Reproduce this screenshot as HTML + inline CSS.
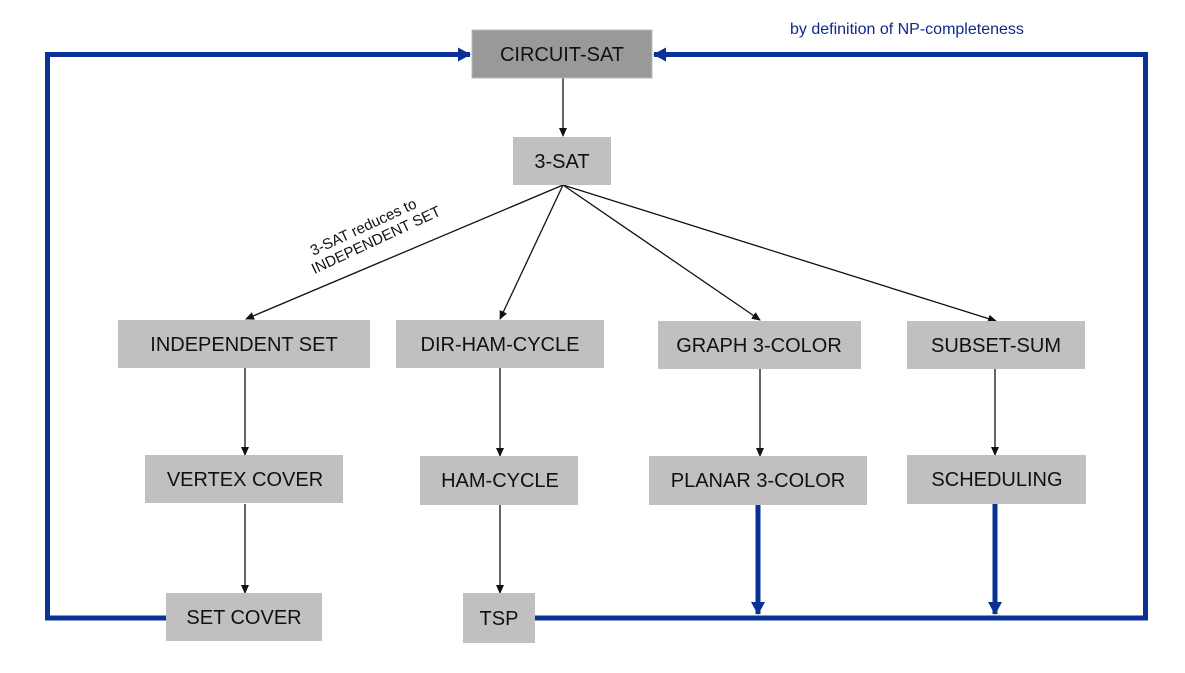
<!DOCTYPE html>
<html><head><meta charset="utf-8"><style>
html,body{margin:0;padding:0;background:#fff;}
svg{display:block;}
text{font-family:"Liberation Sans","DejaVu Sans",sans-serif;fill:#111;}
</style></head><body>
<svg width="1185" height="673" viewBox="0 0 1185 673" xmlns="http://www.w3.org/2000/svg">
<defs>
<marker id="a" markerWidth="10" markerHeight="10" refX="8" refY="4" orient="auto" markerUnits="userSpaceOnUse"><path d="M0,0 L9,4 L0,8 z" fill="#111"/></marker>
<marker id="b" markerWidth="16" markerHeight="16" refX="12" refY="7" orient="auto" markerUnits="userSpaceOnUse"><path d="M0,0 L13,7 L0,14 z" fill="#0a3296"/></marker>
</defs>
<g stroke="#0a3296" stroke-width="5" fill="none">
<polyline points="166,618 47.5,618 47.5,54.5 470,54.5" marker-end="url(#b)"/>
<polyline points="535,618 1145.5,618 1145.5,54.5 654,54.5" marker-end="url(#b)"/>
<line x1="758" y1="505" x2="758" y2="614" marker-end="url(#b)"/>
<line x1="995" y1="504" x2="995" y2="614" marker-end="url(#b)"/>
</g>
<g stroke="#111" stroke-width="1.3" fill="none">
<line x1="563" y1="78" x2="563" y2="136" marker-end="url(#a)"/>
<line x1="563" y1="185" x2="246" y2="319" marker-end="url(#a)"/>
<line x1="563" y1="185" x2="500" y2="319" marker-end="url(#a)"/>
<line x1="563" y1="185" x2="760" y2="320" marker-end="url(#a)"/>
<line x1="563" y1="185" x2="996" y2="321" marker-end="url(#a)"/>
<line x1="245" y1="368" x2="245" y2="455" marker-end="url(#a)"/>
<line x1="500" y1="368" x2="500" y2="456" marker-end="url(#a)"/>
<line x1="760" y1="368" x2="760" y2="456" marker-end="url(#a)"/>
<line x1="995" y1="368" x2="995" y2="455" marker-end="url(#a)"/>
<line x1="245" y1="504" x2="245" y2="593" marker-end="url(#a)"/>
<line x1="500" y1="505" x2="500" y2="593" marker-end="url(#a)"/>
</g>
<g>
<rect x="472" y="30" width="180" height="48" fill="#999999" stroke="#bbb"/>
<rect x="513" y="137" width="98" height="48" fill="#c0c0c0"/>
<rect x="118" y="320" width="252" height="48" fill="#c0c0c0"/>
<rect x="396" y="320" width="208" height="48" fill="#c0c0c0"/>
<rect x="658" y="321" width="203" height="48" fill="#c0c0c0"/>
<rect x="907" y="321" width="178" height="48" fill="#c0c0c0"/>
<rect x="145" y="455" width="198" height="48" fill="#c0c0c0"/>
<rect x="420" y="456" width="158" height="49" fill="#c0c0c0"/>
<rect x="649" y="456" width="218" height="49" fill="#c0c0c0"/>
<rect x="907" y="455" width="179" height="49" fill="#c0c0c0"/>
<rect x="166" y="593" width="156" height="48" fill="#c0c0c0"/>
<rect x="463" y="593" width="72" height="50" fill="#c0c0c0"/>
</g>
<g font-size="20" text-anchor="middle">
<text x="562" y="61">CIRCUIT-SAT</text>
<text x="562" y="168">3-SAT</text>
<text x="244" y="351">INDEPENDENT SET</text>
<text x="500" y="351">DIR-HAM-CYCLE</text>
<text x="759" y="352">GRAPH 3-COLOR</text>
<text x="996" y="352">SUBSET-SUM</text>
<text x="245" y="486">VERTEX COVER</text>
<text x="500" y="487">HAM-CYCLE</text>
<text x="758" y="487">PLANAR 3-COLOR</text>
<text x="997" y="486">SCHEDULING</text>
<text x="244" y="624">SET COVER</text>
<text x="499" y="625">TSP</text>
</g>
<g font-size="15" transform="translate(368,237) rotate(-25)" text-anchor="middle">
<text x="0" y="-6">3-SAT reduces to</text>
<text x="6" y="11">INDEPENDENT SET</text>
</g>
<text x="790" y="34" font-size="16" style="fill:#0d2a8a">by definition of NP-completeness</text>
</svg>
</body></html>
